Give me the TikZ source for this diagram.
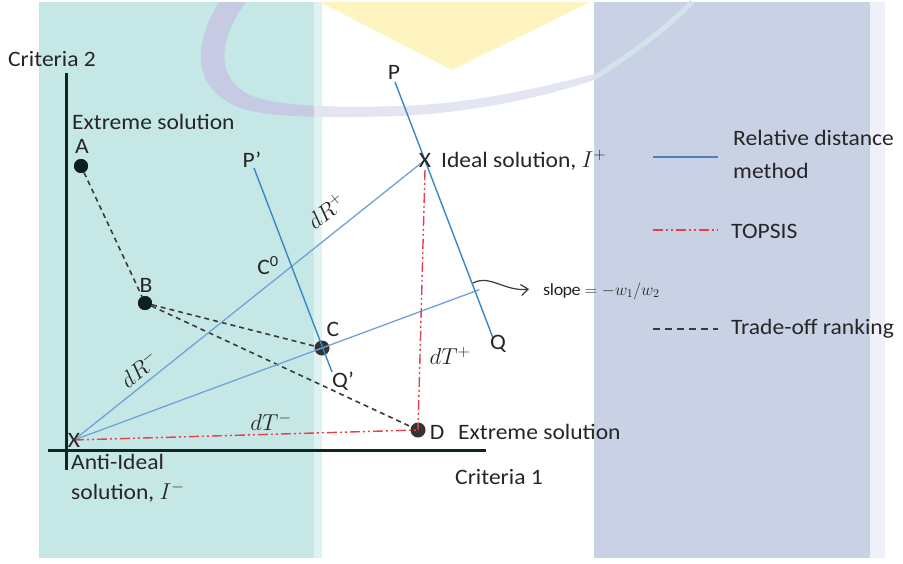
\RequirePackage{fix-cm}
\documentclass[tikz,border=0pt]{standalone}
\usepackage{fontspec}
\setmainfont{Carlito}[FakeStretch=1.07]
\usetikzlibrary{calc,arrows.meta}
\definecolor{tealpanel}{HTML}{C5E8E6}
\definecolor{tealstrip}{HTML}{DDF2F1}
\definecolor{lavpanel}{HTML}{C9D1E4}
\definecolor{lavstrip}{HTML}{EEF1F7}
\definecolor{yellowmark}{HTML}{FDF4C0}
\definecolor{arcmark}{HTML}{C6CAE2}
\definecolor{arcmarkwhite}{HTML}{E3E6F2}
\definecolor{arcmarklight}{HTML}{D2E4EA}
\definecolor{txt}{HTML}{262626}
\definecolor{axiscol}{HTML}{0E2626}
\definecolor{bluedark}{HTML}{3A87C4}
\definecolor{bluelight}{HTML}{6FA3D8}
\definecolor{bluelegend}{HTML}{4F81BD}
\definecolor{redline}{HTML}{E8404A}
\definecolor{dashcol}{HTML}{3A3A3A}
\definecolor{dotcol}{HTML}{0F1E1E}
\definecolor{dotgray}{HTML}{333333}
\begin{document}
\begin{tikzpicture}[x=1pt,y=-1pt,
  lbl/.style={font=\fontsize{22}{26}\selectfont, text=txt, inner sep=0pt},
  mlbl/.style={font=\fontsize{23}{27}\selectfont, text=txt, inner sep=0pt},
  dotblack/.style={circle, fill=dotcol, minimum size=14pt, inner sep=0pt},
  dotgrey/.style={circle, fill=dotgray, minimum size=15pt, inner sep=0pt},
  axisline/.style={line width=3pt, axiscol},
  relline/.style={line width=1.4pt, bluedark},
  distline/.style={line width=1.3pt, bluelight},
  topsis/.style={line width=1.4pt, redline, dash pattern=on 10pt off 3pt on 2pt off 3pt on 2pt off 3pt},
  tradeoff/.style={line width=1.6pt, dashcol, dash pattern=on 5pt off 4pt},
  xmark/.style={font=\fontsize{22}{26}\selectfont, text=txt, inner sep=0pt}
]
\useasboundingbox (0,0) rectangle (903,563);
% background panels
\fill[white] (0,0) rectangle (903,563);
\fill[tealpanel] (39,2) rectangle (314,558);
\fill[tealstrip] (314,2) rectangle (322,558);
\fill[lavpanel] (594,2) rectangle (870,558);
\fill[lavstrip] (870,2) rectangle (885,558);
% watermark
\fill[yellowmark] (320,2) -- (590,2) -- (452,70) -- cycle;
\def\arcpath{(219,2) .. controls (190,50) and (195,90) .. (240,108)
   .. controls (270,118) and (330,118) .. (400,116)
   .. controls (480,112) and (550,95) .. (594,80)
   -- (594,74) .. controls (540,88) and (470,104) .. (400,106)
   .. controls (330,108) and (275,106) .. (250,95)
   .. controls (215,78) and (218,40) .. (246,2) -- cycle}
\begin{scope}
  \clip (0,0) rectangle (314,563);
  \fill[arcmark] \arcpath;
\end{scope}
\begin{scope}
  \clip (314,0) rectangle (594,563);
  \fill[arcmarkwhite] \arcpath;
\end{scope}
\draw[arcmarklight, line width=5pt] (594,78) .. controls (630,55) and (665,30) .. (692,2);

% key points
\coordinate (Im) at (74,440);
\coordinate (Ip) at (425,160);
\coordinate (AxT) at (66,73);
\coordinate (AxB) at (66,470);
\coordinate (AxL) at (48,450);
\coordinate (AxR) at (486,450);
\node[dotblack] (A) at (81,166) {};
\node[dotblack] (B) at (145,303) {};
\node[dotgrey] (C) at (322,348) {};
\node[dotgrey] (D) at (418,430) {};
\coordinate (Pp) at (254,168);
\coordinate (Qp) at (332,372);
\coordinate (P) at (395,82);
\coordinate (Q) at (493,338);
\coordinate (F) at ($(Im)!(Ip)!(C)$);
\coordinate (Fx) at ($(F)!-6pt!(Im)$);
\coordinate (IpD) at (425,170);

% axes
\draw[axisline] (AxT) -- (AxB);
\draw[axisline] (AxL) -- (AxR);

% trade-off dashed
\draw[tradeoff] (A) -- (B);
\draw[tradeoff] (B) -- (C);
\draw[tradeoff] (B) -- (D);
\node[dotblack] at (A) {};
\node[dotblack] at (B) {};

% relative distance lines
\draw[distline] (Im) -- (Ip);
\draw[distline] (Im) -- (Fx);
\draw[relline] (Pp) -- (Qp);
\draw[relline] (P) -- (Q);

% TOPSIS
\draw[topsis] (Im) -- (D.center);
\draw[topsis] (IpD) -- (D.center);

% X markers
\node[xmark] (Xm) at (74,440) {X};
\node[xmark] (Xp) at (425,160) {X};

% labels
\node[lbl, anchor=west] (crit2) at (8,59) {Criteria 2};
\node[lbl, anchor=west] (ext1) at (72,122) {Extreme solution};
\node[lbl] (Alab) at (82,146) {A};
\node[lbl] (Blab) at (146,285) {B};
\node[lbl] (Clab) at (333,329) {C};
\node[lbl] (C0lab) at (268,266) {C\textsuperscript{0}};
\node[lbl] (Pplab) at (252,160) {P’};
\node[lbl] (Qplab) at (343,381) {Q’};
\node[lbl] (Plab) at (394,72) {P};
\node[lbl] (Qlab) at (498,344) {Q};
\node[lbl] (Dlab) at (437,432) {D};
\node[lbl, anchor=west] (ext2) at (458,432) {Extreme solution};
\node[lbl, anchor=west] (ideal) at (441,160) {Ideal solution, {\fontsize{23}{27}\selectfont$I^{+}$}};
\node[lbl, anchor=west] (crit1) at (455,477) {Criteria 1};
\node[lbl, anchor=west] (anti1) at (71,462) {Anti-Ideal};
\node[lbl, anchor=west] (anti2) at (71,492) {solution, {\fontsize{23}{27}\selectfont$I^{-}$}};
\node[mlbl, rotate=38.7] (dRp) at (326,211) {$dR^{+}$};
\node[mlbl, rotate=38.7] (dRm) at (139,369) {$dR^{-}$};
\node[mlbl] (dTp) at (450,356) {$dT^{+}$};
\node[mlbl] (dTm) at (271,422) {$dT^{-}$};

% slope annotation
\node[inner sep=0pt, anchor=west, font=\fontsize{17}{20}\selectfont, text=txt] (slope) at (543,291) {$\mathrm{slope} = -w_{1}/w_{2}$};
\coordinate (sl0) at (473,283);
\draw[line width=1.2pt, dashcol, -{Straight Barb[length=7pt,width=11pt]}]
  (sl0) .. controls (490,274) and (505,292) .. ($(slope.west)+(-14,-2)$);

% legend
\coordinate (L1a) at (653,157); \coordinate (L1b) at (718,157);
\coordinate (L2a) at (653,230); \coordinate (L2b) at (718,230);
\coordinate (L3a) at (653,329); \coordinate (L3b) at (718,329);
\draw[line width=1.4pt, bluelegend] (L1a) -- (L1b);
\draw[line width=1.4pt, redline, dash pattern=on 10pt off 3pt on 2pt off 3pt on 2pt off 3pt] (L2a) -- (L2b);
\draw[line width=1.5pt, dashcol, dash pattern=on 7pt off 5pt] (L3a) -- (L3b);
\node[lbl, anchor=west] (leg1) at (733,138) {Relative distance};
\node[lbl, anchor=west] (leg1b) at (733,171) {method};
\node[lbl, anchor=west] (leg2) at (731,231) {TOPSIS};
\node[lbl, anchor=west] (leg3) at (731,329) {Trade-off ranking};
\end{tikzpicture}
\end{document}
